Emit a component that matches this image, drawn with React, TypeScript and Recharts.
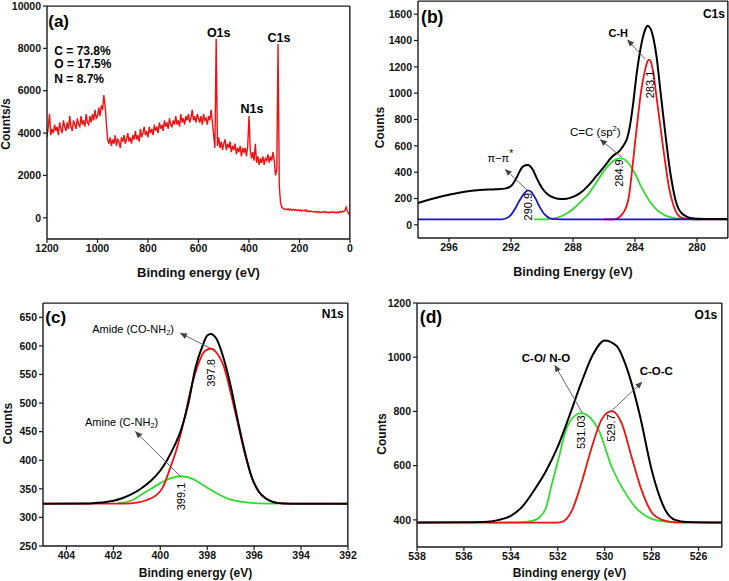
import React from "react";
import {
  LineChart,
  Line,
  XAxis,
  YAxis,
  ReferenceDot,
  ReferenceLine,
} from "recharts";

type Pt = [number, number];

const FONT = "Arial, 'Liberation Sans', Helvetica, sans-serif";
const RED = "#f01212";
const GREEN = "#2fdc2f";
const BLUE = "#1616c8";
const BLACK = "#000000";
const FRAME = "#1a1a1a";

// (a) survey scan, read every 5 eV from 1200 down to 0
const SURVEY_START = 1200;
const SURVEY_STEP = 5;
const surveyCounts = [
  3800, 4300, 4900, 3900, 4200, 4000, 4400, 4100, 4300, 3900,
  4500, 4200, 4000, 4600, 4300, 4100, 4500, 4200, 4800, 4300,
  4100, 4600, 4400, 4200, 4700, 4400, 4300, 4800, 4400, 4600,
  4300, 4900, 4500, 4400, 4800, 4500, 4900, 4600, 5100, 4700,
  4800, 5200, 4800, 5300, 5100, 5800, 5300, 4500, 3700, 3500,
  3800, 3400, 3700, 3500, 3900, 3400, 3700, 3600, 3300, 3800,
  3600, 3900, 3500, 3700, 4000, 3600, 3800, 3500, 3900, 3700,
  4100, 3700, 3900, 3600, 4200, 3800, 4000, 4300, 3900, 4100,
  3800, 4300, 4000, 4200, 3900, 4400, 4100, 4300, 4000, 4500,
  4200, 4400, 4100, 4600, 4300, 4500, 4200, 4700, 4400, 4300,
  4600, 4400, 4800, 4400, 4600, 4300, 4900, 4500, 4700, 4400,
  4800, 4600, 4900, 4500, 4700, 5100, 4600, 4800, 4500, 4900,
  4700, 4500, 4800, 4400, 4900, 4600, 4700, 4400, 4800, 4600,
  5100, 4500, 3900, 3300, 8450, 3400, 3800, 3300, 3600, 3200,
  3500, 3700, 3200, 3500, 3300, 3600, 3100, 3400, 3200, 3500,
  3000, 3300, 3100, 3400, 2900, 3300, 3100, 3300, 2900, 3400,
  4800, 3200, 2800, 3100, 2700, 3500, 2600, 2900, 2500, 2800,
  2600, 2900, 2500, 2800, 2700, 3000, 2600, 2900, 2700, 3100,
  2700, 2000, 2300, 8200, 1500, 700, 500, 450, 400, 420,
  380, 430, 370, 410, 360, 400, 350, 390, 340, 380,
  330, 370, 320, 360, 330, 380, 300, 340, 280, 320,
  290, 270, 310, 260, 300, 250, 290, 240, 280, 250,
  300, 240, 270, 230, 280, 240, 290, 250, 270, 230,
  280, 240, 300, 260, 320, 280, 350, 500, 300, 200,
  100,
];
const surveyTicksX = [1200, 1000, 800, 600, 400, 200, 0];
const surveyTicksY = [0, 2000, 4000, 6000, 8000, 10000];

// (b) C1s
const c1sEnvelope: Pt[] = [
  [298, 165], [297, 200], [296, 228], [295, 252], [294, 265], [293, 270],
  [292.4, 275], [292, 295], [291.7, 345], [291.4, 415], [291.2, 445],
  [290.9, 455], [290.6, 420], [290.3, 345], [290, 280], [289.6, 228],
  [289.2, 205], [288.8, 196], [288.4, 198], [288, 212], [287.5, 245],
  [287, 300], [286.5, 370], [286, 440], [285.5, 515], [285, 562],
  [284.7, 610], [284.5, 660], [284.3, 770], [284.1, 940], [283.9, 1140],
  [283.7, 1300], [283.5, 1420], [283.3, 1495], [283.2, 1512], [283, 1490],
  [282.8, 1410], [282.6, 1270], [282.4, 1060], [282.2, 850], [282, 650],
  [281.8, 460], [281.6, 310], [281.4, 195], [281.2, 125], [281, 90],
  [280.7, 65], [280.4, 52], [280, 46], [279, 44], [278, 44],
];
const c1sCH: Pt[] = [
  [286, 42], [285.4, 42], [285, 60], [284.8, 85], [284.6, 125], [284.4, 210],
  [284.2, 400], [284, 620], [283.8, 830], [283.6, 1020], [283.4, 1150],
  [283.2, 1240], [283.1, 1255], [283, 1245], [282.8, 1140], [282.6, 960],
  [282.4, 780], [282.2, 600], [282, 430], [281.8, 280], [281.6, 180],
  [281.4, 110], [281.2, 72], [281, 55], [280.6, 45], [280, 42], [278, 42],
];
const c1sCC: Pt[] = [
  [290.5, 42], [289.8, 42], [289, 55], [288.5, 80], [288, 120], [287.5, 175],
  [287, 235], [286.5, 320], [286, 410], [285.5, 475], [285, 504],
  [284.8, 502], [284.5, 478], [284, 390], [283.6, 290], [283.2, 205],
  [283, 170], [282.6, 115], [282.2, 80], [281.8, 60], [281.2, 48],
  [280.5, 43], [280, 42],
];
const c1sPi: Pt[] = [
  [298, 42], [292.6, 42], [292.3, 50], [292, 75], [291.7, 130], [291.4, 195],
  [291.1, 245], [290.9, 262], [290.7, 250], [290.4, 195], [290.1, 125],
  [289.8, 75], [289.5, 50], [289.2, 43], [288.6, 42], [278, 42],
];
const c1sTicksX = [296, 292, 288, 284, 280];
const c1sTicksY = [0, 200, 400, 600, 800, 1000, 1200, 1400, 1600];

// (c) N1s
const n1sEnvelope: Pt[] = [
  [405, 324], [403, 324.5], [402.5, 326], [402, 329], [401.6, 334],
  [401.2, 341], [400.8, 351], [400.4, 364], [400, 382], [399.7, 401],
  [399.4, 425], [399.1, 455], [398.8, 500], [398.5, 562], [398.2, 600],
  [398, 618], [397.85, 621], [397.6, 612], [397.3, 578], [397, 530],
  [396.7, 470], [396.4, 415], [396.1, 370], [395.8, 345], [395.5, 333],
  [395.2, 327], [394.8, 324.5], [394, 324], [392, 324],
];
const n1sAmide: Pt[] = [
  [405, 324], [401.5, 324], [401, 326], [400.6, 330], [400.2, 338],
  [399.9, 352], [399.6, 384], [399.3, 420], [399, 468], [398.7, 524],
  [398.4, 566], [398.1, 591], [397.85, 595], [397.6, 588], [397.3, 565],
  [397, 518], [396.7, 465], [396.4, 412], [396.1, 370], [395.8, 345],
  [395.5, 333], [395.2, 327], [394.8, 324.5], [394, 324], [392, 324],
];
const n1sAmine: Pt[] = [
  [401.8, 325], [401.2, 330], [400.8, 340], [400.4, 350], [400, 360],
  [399.6, 368], [399.1, 372], [398.6, 367], [398.2, 357], [397.8, 347],
  [397.4, 338], [397, 331], [396.5, 327], [396, 325], [395, 324],
];
const n1sTicksX = [404, 402, 400, 398, 396, 394, 392];
const n1sTicksY = [250, 300, 350, 400, 450, 500, 550, 600, 650];

// (d) O1s
const o1sEnvelope: Pt[] = [
  [538, 390], [536, 391], [535, 393], [534.5, 400], [534, 415], [533.5, 450],
  [533, 510], [532.5, 580], [532, 670], [531.5, 785], [531, 905],
  [530.5, 1010], [530, 1062], [529.5, 1042], [529, 945], [528.5, 785],
  [528, 585], [527.7, 496], [527.4, 434], [527, 400], [526.5, 392], [525, 390],
];
const o1sCO: Pt[] = [
  [535, 390], [533.5, 392], [533.1, 396], [532.8, 408], [532.5, 445],
  [532.25, 533], [531.95, 631], [531.7, 718], [531.4, 773], [531, 794],
  [530.6, 775], [530.25, 730], [529.7, 595], [529.1, 496], [528.55, 434],
  [528, 404], [527.4, 394], [526.5, 390],
];
const o1sCOC: Pt[] = [
  [538, 390], [532.2, 390], [531.85, 392], [531.4, 434], [531, 533],
  [530.55, 668], [530.1, 775], [529.7, 801], [529.27, 755], [528.85, 631],
  [528.42, 508], [528, 428], [527.55, 400], [527, 391], [525, 390],
];
const o1sTicksX = [538, 536, 534, 532, 530, 528, 526];
const o1sTicksY = [400, 600, 800, 1000, 1200];

const toData = (pts: Pt[]) => pts.map(([e, c]) => ({ e, c }));

const tickStyle = { fontSize: 10.5, fontWeight: 700, fill: "#111", fontFamily: FONT };

type NoteOpts = {
  size?: number;
  bold?: boolean;
  anchor?: "start" | "middle" | "end";
  rotate?: boolean;
};

const note = (
  key: string,
  x: number,
  y: number,
  content: React.ReactNode,
  o: NoteOpts = {}
) => (
  <ReferenceDot
    key={key}
    x={x}
    y={y}
    r={0}
    fill="none"
    stroke="none"
    ifOverflow="visible"
    label={(p: any) => {
      const vb = p.viewBox || {};
      const cx = (vb.x ?? 0) + (vb.width ?? 0) / 2;
      const cy = (vb.y ?? 0) + (vb.height ?? 0) / 2;
      return (
        <text
          x={cx}
          y={cy}
          textAnchor={o.anchor ?? "middle"}
          dominantBaseline="central"
          fontFamily={FONT}
          fontSize={o.size ?? 11}
          fontWeight={o.bold ? 700 : 400}
          fill="#000"
          transform={o.rotate ? `rotate(-90 ${cx} ${cy})` : undefined}
        >
          {content}
        </text>
      );
    }}
  />
);

// arrow; the same shape without a head also draws the top/right box edges
const arrow = (key: string, from: Pt, to: Pt, head = true, color = "#555", width = 0.9) => (
  <ReferenceLine
    key={key}
    segment={[
      { x: from[0], y: from[1] },
      { x: to[0], y: to[1] },
    ]}
    ifOverflow="visible"
    shape={(p: any) => (
      <g>
        <defs>
          <marker
            id={`arr-${key}`}
            markerWidth={7}
            markerHeight={6}
            refX={6.5}
            refY={3}
            orient="auto"
            markerUnits="userSpaceOnUse"
          >
            <path d="M0,0 L7,3 L0,6 Z" fill="#444" />
          </marker>
        </defs>
        <line
          x1={p.x1}
          y1={p.y1}
          x2={p.x2}
          y2={p.y2}
          stroke={color}
          strokeWidth={width}
          markerEnd={head ? `url(#arr-${key})` : undefined}
        />
      </g>
    )}
  />
);

const series = (key: string, pts: Pt[], color: string, width = 1.8, type: any = "monotone") => (
  <Line
    key={key}
    data={toData(pts)}
    dataKey="c"
    type={type}
    stroke={color}
    strokeWidth={width}
    dot={false}
    activeDot={false}
    isAnimationActive={false}
  />
);

type PanelProps = {
  left: number;
  top: number;
  width: number;
  height: number;
  margin: { top: number; right: number; bottom: number; left: number };
  yWidth: number;
  xHeight: number;
  xDomain: [number, number];
  yDomain: [number, number];
  xTicks: number[];
  yTicks: number[];
  xTitle: string;
  yTitle: string;
  xTitleDy: number;
  xTitleSize: number;
  yTitleX: number;
  yTitleDy: number;
  children: React.ReactNode;
};

const frameLine = { stroke: FRAME, strokeWidth: 1.4 };

const Panel = (props: PanelProps) => {
  const { xDomain, yDomain, margin } = props;
  const [xLo, xHi] = xDomain;
  const [yLo, yHi] = yDomain;
  // the box edges are nudged a hair inside the domain
  const xIn = (xHi - xLo) * 0.0005;
  const yIn = (yHi - yLo) * 0.0005;
  return (
    <div
      style={{
        position: "absolute",
        left: props.left,
        top: props.top,
        width: props.width,
        height: props.height,
      }}
    >
      <LineChart width={props.width} height={props.height} margin={margin}>
        <XAxis
          dataKey="e"
          type="number"
          domain={xDomain}
          reversed
          allowDataOverflow
          ticks={props.xTicks}
          interval={0}
          height={props.xHeight}
          tickSize={4}
          tickMargin={2}
          axisLine={frameLine}
          tickLine={{ stroke: FRAME, strokeWidth: 1.2 }}
          tick={tickStyle}
          label={(p: any) => {
            const vb = p.viewBox || {};
            return (
              <text
                x={(vb.x ?? 0) + (vb.width ?? 0) / 2}
                y={(vb.y ?? 0) + props.xTitleDy}
                textAnchor="middle"
                dominantBaseline="central"
                fontFamily={FONT}
                fontSize={props.xTitleSize}
                fontWeight={700}
                fill="#111"
              >
                {props.xTitle}
              </text>
            );
          }}
        />
        <YAxis
          type="number"
          domain={yDomain}
          allowDataOverflow
          ticks={props.yTicks}
          interval={0}
          width={props.yWidth}
          tickSize={4}
          tickMargin={2}
          axisLine={frameLine}
          tickLine={{ stroke: FRAME, strokeWidth: 1.2 }}
          tick={tickStyle}
          label={(p: any) => {
            const vb = p.viewBox || {};
            const cx = (vb.x ?? 0) + props.yTitleX;
            const cy = (vb.y ?? 0) + (vb.height ?? 0) / 2 + props.yTitleDy;
            return (
              <text
                x={cx}
                y={cy}
                textAnchor="middle"
                dominantBaseline="central"
                fontFamily={FONT}
                fontSize={12}
                fontWeight={700}
                fill="#111"
                transform={`rotate(-90 ${cx} ${cy})`}
              >
                {props.yTitle}
              </text>
            );
          }}
        />
        {props.children}
        {arrow("top", [xLo, yHi - yIn], [xHi, yHi - yIn], false, FRAME, 1.4)}
        {arrow("right", [xLo + xIn, yLo], [xLo + xIn, yHi], false, FRAME, 1.4)}
      </LineChart>
    </div>
  );
};

const surveyPts: Pt[] = surveyCounts.map((c, i) => [SURVEY_START - SURVEY_STEP * i, c]);

export default function App() {
  return (
    <div
      style={{
        position: "absolute",
        left: 0,
        top: 0,
        width: 729,
        height: 581,
        background: "#fff",
        overflow: "hidden",
      }}
    >
      <Panel
        left={0}
        top={0}
        width={365}
        height={290}
        margin={{ top: 6, right: 15, bottom: 0, left: 0 }}
        yWidth={47}
        xHeight={51}
        xDomain={[0, 1200]}
        yDomain={[-1000, 10000]}
        xTicks={surveyTicksX}
        yTicks={surveyTicksY}
        xTitle="Binding energy (eV)"
        yTitle="Counts/s"
        xTitleDy={33.5}
        xTitleSize={13}
        yTitleX={5.5}
        yTitleDy={1.5}
      >
        {series("survey", surveyPts, RED, 1.4, "linear")}
        {note("a-lab", 1195, 9280, "(a)", { size: 17, bold: true, anchor: "start" })}
        {note("a-c", 1171, 7863, "C = 73.8%", { size: 12, bold: true, anchor: "start" })}
        {note("a-o", 1171, 7250, "O = 17.5%", { size: 12, bold: true, anchor: "start" })}
        {note("a-n", 1171, 6543, "N = 8.7%", { size: 12, bold: true, anchor: "start" })}
        {note("a-o1s", 520, 8736, "O1s", { size: 12.5, bold: true })}
        {note("a-c1s", 281, 8500, "C1s", { size: 12.5, bold: true })}
        {note("a-n1s", 388, 5127, "N1s", { size: 12.5, bold: true })}
      </Panel>

      <Panel
        left={365}
        top={0}
        width={364}
        height={290}
        margin={{ top: 1, right: 1, bottom: 0, left: 0 }}
        yWidth={53}
        xHeight={52}
        xDomain={[278, 298]}
        yDomain={[-100, 1700]}
        xTicks={c1sTicksX}
        yTicks={c1sTicksY}
        xTitle="Binding Energy (eV)"
        yTitle="Counts"
        xTitleDy={34}
        xTitleSize={12.5}
        yTitleX={15}
        yTitleDy={8}
      >
        {series("cc", c1sCC, GREEN)}
        {series("ch", c1sCH, RED)}
        {series("pi", c1sPi, BLUE)}
        {series("env", c1sEnvelope, BLACK, 2)}
        {arrow("b1", [283.34, 1260], [284.48, 1404])}
        {arrow("b2", [284.84, 512], [286.24, 648])}
        {arrow("b3", [290.97, 265], [292.37, 421])}
        {note("b-lab", 297.8, 1580, "(b)", { size: 17.5, bold: true, anchor: "start" })}
        {note("b-c1s", 278.2, 1605, "C1s", { size: 12, bold: true, anchor: "end" })}
        {note("b-ch", 285.08, 1459, "C-H", { size: 11, bold: true })}
        {note(
          "b-cc",
          286.56,
          703,
          <>
            C=C (sp
            <tspan dy={-4} fontSize={7.5}>2</tspan>
            <tspan dy={4}>)</tspan>
          </>,
          { size: 11.5 }
        )}
        {note(
          "b-pi",
          292.69,
          506,
          <>
            π−π
            <tspan dy={-5} fontSize={10}>*</tspan>
          </>,
          { size: 11 }
        )}
        {note("b-v1", 283.01, 1066, "283.1", { size: 11, rotate: true })}
        {note("b-v2", 285.0, 393, "284.9", { size: 11, rotate: true })}
        {note("b-v3", 290.92, 138, "290.9", { size: 11, rotate: true })}
      </Panel>

      <Panel
        left={0}
        top={290}
        width={365}
        height={291}
        margin={{ top: 13, right: 17, bottom: 0, left: 0 }}
        yWidth={43}
        xHeight={35}
        xDomain={[392, 405]}
        yDomain={[250, 675]}
        xTicks={n1sTicksX}
        yTicks={n1sTicksY}
        xTitle="Binding energy (eV)"
        yTitle="Counts"
        xTitleDy={27}
        xTitleSize={12}
        yTitleX={7.5}
        yTitleDy={-1}
      >
        {series("amine", n1sAmine, GREEN)}
        {series("amide", n1sAmide, RED)}
        {series("env", n1sEnvelope, BLACK, 2)}
        {arrow("c1", [397.86, 595.8], [399.14, 622])}
        {arrow("c2", [399.14, 371.6], [401.06, 450])}
        {note("c-lab", 404.9, 650.5, "(c)", { size: 17, bold: true, anchor: "start" })}
        {note("c-n1s", 392.18, 655.8, "N1s", { size: 12, bold: true, anchor: "end" })}
        {note(
          "c-amide",
          401.16,
          629.6,
          <>
            Amide (CO-NH
            <tspan dy={3} fontSize={7.5}>2</tspan>
            <tspan dy={-3}>)</tspan>
          </>,
          { size: 11 }
        )}
        {note(
          "c-amine",
          401.65,
          466,
          <>
            Amine (C-NH
            <tspan dy={3} fontSize={7.5}>2</tspan>
            <tspan dy={-3}>)</tspan>
          </>,
          { size: 11 }
        )}
        {note("c-v1", 397.84, 552.7, "397.8", { size: 11, rotate: true })}
        {note("c-v2", 399.12, 336.6, "399.1", { size: 11, rotate: true })}
      </Panel>

      <Panel
        left={365}
        top={290}
        width={364}
        height={291}
        margin={{ top: 13, right: 7, bottom: 0, left: 0 }}
        yWidth={52}
        xHeight={34}
        xDomain={[525, 538]}
        yDomain={[300, 1200]}
        xTicks={o1sTicksX}
        yTicks={o1sTicksY}
        xTitle="Binding energy (eV)"
        yTitle="Counts"
        xTitleDy={26}
        xTitleSize={12}
        yTitleX={17}
        yTitleDy={9}
      >
        {series("co", o1sCO, GREEN)}
        {series("coc", o1sCOC, RED)}
        {series("env", o1sEnvelope, BLACK, 2)}
        {arrow("d1", [530.97, 797], [532.12, 970])}
        {arrow("d2", [529.77, 797], [528.41, 908])}
        {note("d-lab", 537.88, 1147, "(d)", { size: 17.5, bold: true, anchor: "start" })}
        {note("d-o1s", 525.2, 1156, "O1s", { size: 12, bold: true, anchor: "end" })}
        {note("d-co", 532.5, 997.6, "C-O/ N-O", { size: 11.5, bold: true })}
        {note("d-coc", 527.8, 947.7, "C-O-C", { size: 11.5, bold: true })}
        {note("d-v1", 531.0, 723.5, "531.03", { size: 11, rotate: true })}
        {note("d-v2", 529.72, 739, "529.7", { size: 11, rotate: true })}
      </Panel>
    </div>
  );
}
